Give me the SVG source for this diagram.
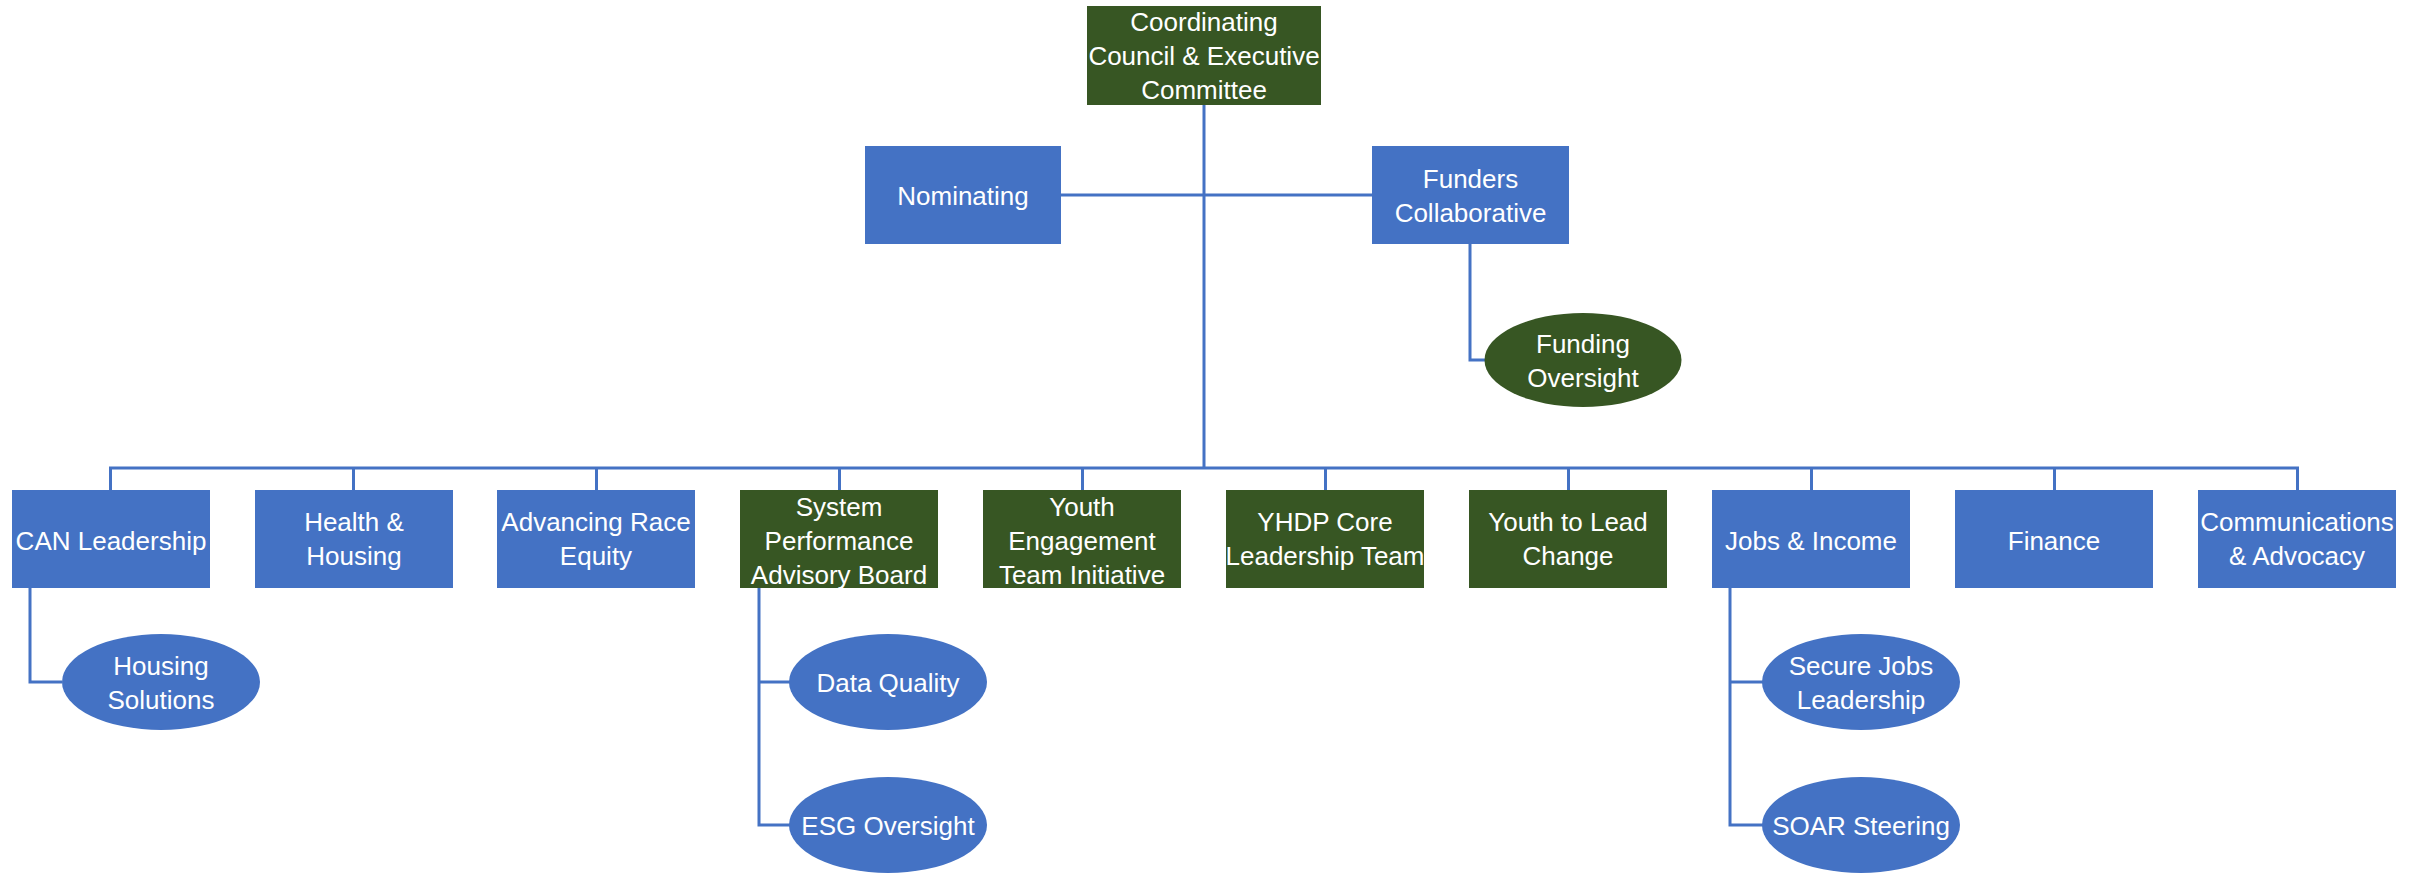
<svg xmlns="http://www.w3.org/2000/svg" width="2423" height="873" viewBox="0 0 2423 873">
<style>
.blue{fill:#4472C4}
.green{fill:#375623}
.t{fill:#ffffff;font-family:"Liberation Sans",Arial,sans-serif;font-size:26px;text-anchor:middle;dominant-baseline:central}
.ln{fill:none;stroke:#4472C4;stroke-width:3}
</style>
<rect width="2423" height="873" fill="#ffffff"/>
<g id="connectors">
<path class="ln" d="M1204,105 V468"/>
<path class="ln" d="M1061,195 H1372"/>
<path class="ln" d="M1470,244 V360 H1485"/>
<path class="ln" d="M110.5,490 V468 H2297.5 V490"/>
<path class="ln" d="M353.5,468 V490 M596.5,468 V490 M839.5,468 V490 M1082.5,468 V490 M1325.5,468 V490 M1568.5,468 V490 M1811.5,468 V490 M2054.5,468 V490"/>
<path class="ln" d="M30,588 V682 H62"/>
<path class="ln" d="M759,588 V825 H790 M759,682 H790"/>
<path class="ln" d="M1730,588 V825 H1763 M1730,682 H1763"/>
</g>
<g id="coordinating"><rect class="green" x="1087" y="6" width="234" height="99"/><text class="t" x="1204" y="22">Coordinating</text><text class="t" x="1204" y="56">Council &amp; Executive</text><text class="t" x="1204" y="90">Committee</text></g>
<g id="nominating"><rect class="blue" x="865" y="146" width="196" height="98"/><text class="t" x="963" y="196">Nominating</text></g>
<g id="funders"><rect class="blue" x="1372" y="146" width="197" height="98"/><text class="t" x="1470.5" y="179">Funders</text><text class="t" x="1470.5" y="213">Collaborative</text></g>
<g id="funding-oversight"><ellipse class="green" cx="1583" cy="360" rx="98.5" ry="47"/><text class="t" x="1583" y="344">Funding</text><text class="t" x="1583" y="378">Oversight</text></g>
<g id="can"><rect class="blue" x="12" y="490" width="198" height="98"/><text class="t" x="111" y="541">CAN Leadership</text></g>
<g id="health"><rect class="blue" x="255" y="490" width="198" height="98"/><text class="t" x="354" y="522">Health &amp;</text><text class="t" x="354" y="556">Housing</text></g>
<g id="race"><rect class="blue" x="497" y="490" width="198" height="98"/><text class="t" x="596" y="522">Advancing Race</text><text class="t" x="596" y="556">Equity</text></g>
<g id="spab"><rect class="green" x="740" y="490" width="198" height="98"/><text class="t" x="839" y="507">System</text><text class="t" x="839" y="541">Performance</text><text class="t" x="839" y="575">Advisory Board</text></g>
<g id="youth-engagement"><rect class="green" x="983" y="490" width="198" height="98"/><text class="t" x="1082" y="507">Youth</text><text class="t" x="1082" y="541">Engagement</text><text class="t" x="1082" y="575">Team Initiative</text></g>
<g id="yhdp"><rect class="green" x="1226" y="490" width="198" height="98"/><text class="t" x="1325" y="522">YHDP Core</text><text class="t" x="1325" y="556">Leadership Team</text></g>
<g id="youth-lead"><rect class="green" x="1469" y="490" width="198" height="98"/><text class="t" x="1568" y="522">Youth to Lead</text><text class="t" x="1568" y="556">Change</text></g>
<g id="jobs"><rect class="blue" x="1712" y="490" width="198" height="98"/><text class="t" x="1811" y="541">Jobs &amp; Income</text></g>
<g id="finance"><rect class="blue" x="1955" y="490" width="198" height="98"/><text class="t" x="2054" y="541">Finance</text></g>
<g id="communications"><rect class="blue" x="2198" y="490" width="198" height="98"/><text class="t" x="2297" y="522">Communications</text><text class="t" x="2297" y="556">&amp; Advocacy</text></g>
<g id="housing-solutions"><ellipse class="blue" cx="161" cy="682" rx="99" ry="48"/><text class="t" x="161" y="666">Housing</text><text class="t" x="161" y="700">Solutions</text></g>
<g id="data-quality"><ellipse class="blue" cx="888" cy="682" rx="99" ry="48"/><text class="t" x="888" y="683">Data Quality</text></g>
<g id="esg"><ellipse class="blue" cx="888" cy="825" rx="99" ry="48"/><text class="t" x="888" y="826">ESG Oversight</text></g>
<g id="secure-jobs"><ellipse class="blue" cx="1861" cy="682" rx="99" ry="48"/><text class="t" x="1861" y="666">Secure Jobs</text><text class="t" x="1861" y="700">Leadership</text></g>
<g id="soar"><ellipse class="blue" cx="1861" cy="825" rx="99" ry="48"/><text class="t" x="1861" y="826">SOAR Steering</text></g>
</svg>
